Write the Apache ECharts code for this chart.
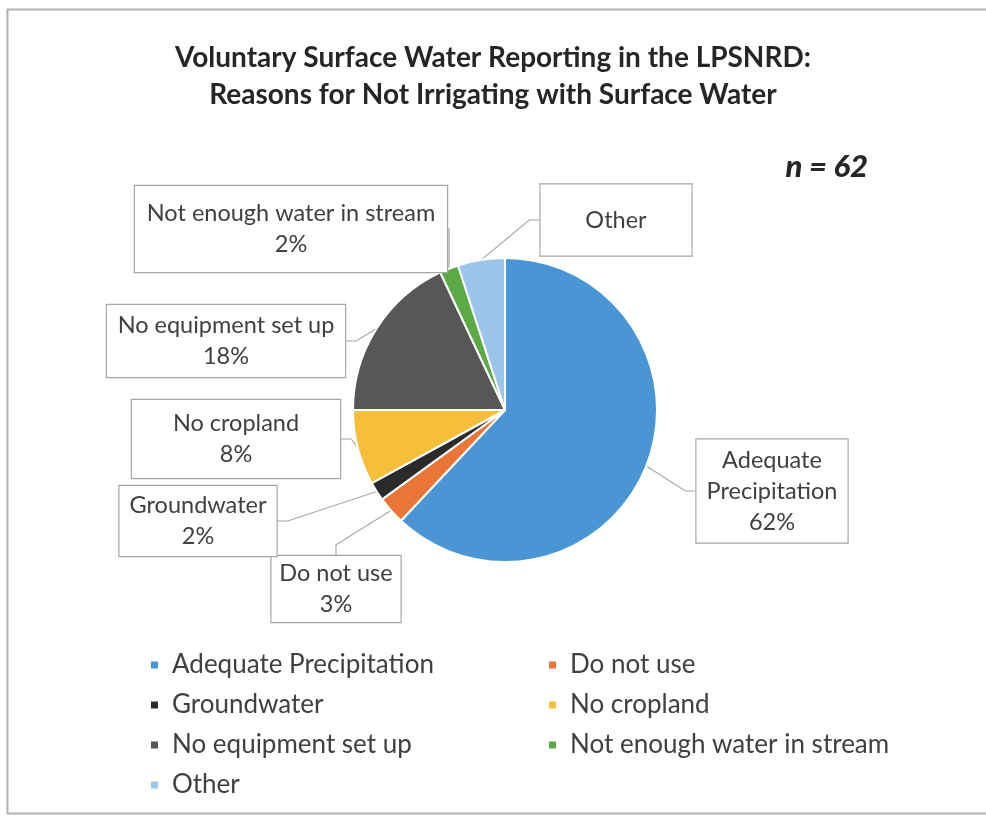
<!DOCTYPE html>
<html>
<head>
<meta charset="utf-8">
<script src="https://cdn.jsdelivr.net/npm/echarts@6/dist/echarts.min.js"></script>
<style>html,body{margin:0;padding:0;background:#fff}#c{width:986px;height:819px}</style>
</head>
<body>
<div id="c"></div>
<script>
// Data
const categories = ['Adequate Precipitation', 'Do not use', 'Groundwater', 'No cropland', 'No equipment set up', 'Not enough water in stream', 'Other'];
const values = [62, 3, 2, 8, 18, 2, 5];
const colors = ['#4a95d3', '#ea7537', '#2b2b2b', '#f7be3b', '#575757', '#5aaa46', '#9cc5ec'];
const labelTexts = ['Adequate\nPrecipitation\n{d}%', '{b}\n{d}%', '{b}\n{d}%', '{b}\n{d}%', '{b}\n{d}%', '{b}\n{d}%', '{b}'];
const titleText = 'Voluntary Surface Water Reporting in the LPSNRD:\nReasons for Not Irrigating with Surface Water';
const noteText = 'n = 62';

// Label box layout (styling / positions)
const boxes = [
  {cx: 772, cy: 491, w: 151, h: 103},
  {cx: 336, cy: 589, w: 129, h: 66},
  {cx: 198, cy: 521, w: 157, h: 70},
  {cx: 236, cy: 439, w: 208, h: 78},
  {cx: 226, cy: 341, w: 238, h: 72},
  {cx: 291, cy: 229, w: 312, h: 86},
  {cx: 616, cy: 220, w: 151, h: 71}
];
const LH = 31;
const FONT = 'Lato, Carlito, Calibri, sans-serif';

const data = categories.map((name, i) => {
  const lines = labelTexts[i].split('\n').length;
  const pv = Math.max(0, (boxes[i].h - lines * LH) / 2);
  return {
    name: name,
    value: values[i],
    itemStyle: {color: colors[i]},
    label: {
      formatter: labelTexts[i],
      width: boxes[i].w,
      padding: [pv, 0, pv, 0]
    }
  };
});

const chart = echarts.init(document.getElementById('c'), null, {renderer: 'canvas'});
chart.setOption({
  animation: false,
  backgroundColor: '#fff',
  title: {
    text: titleText,
    left: 'center',
    top: 34,
    textStyle: {fontFamily: FONT, fontWeight: 'bold', fontSize: 28, color: '#262626', lineHeight: 37}
  },
  graphic: [
    {type: 'rect', shape: {x: 7.5, y: 9.5, width: 990, height: 804}, style: {fill: 'none', stroke: '#b0b0b0', lineWidth: 2}, silent: true},
    {type: 'text', x: 868, y: 167, style: {text: noteText, font: 'italic 900 31px ' + FONT, fill: '#262626', align: 'right', verticalAlign: 'middle'}}
  ],
  legend: {
    left: 144,
    top: 647,
    width: 800,
    orient: 'horizontal',
    itemWidth: 9,
    itemHeight: 9,
    itemGap: 14,
    icon: 'rect',
    data: categories,
    textStyle: {fontFamily: FONT, fontSize: 26, color: '#404040', width: 361, lineHeight: 24, padding: [0, 0, 0, 8]}
  },
  series: [{
    type: 'pie',
    center: [505, 410],
    radius: [0, 152],
    startAngle: 90,
    clockwise: true,
    data: data,
    itemStyle: {borderColor: '#fff', borderWidth: 2},
    label: {
      show: true,
      position: 'outside',
      fontFamily: FONT,
      fontSize: 23.5,
      lineHeight: LH,
      color: '#404040',
      align: 'center',
      backgroundColor: '#fff',
      borderColor: '#a6a6a6',
      borderWidth: 1.2
    },
    labelLine: {show: true, length: 10, length2: 10, lineStyle: {color: '#a6a6a6', width: 1.2}},
    labelLayout: function (p) {
      const b = boxes[p.dataIndex];
      return {x: b.cx, y: b.cy, align: 'center', verticalAlign: 'middle'};
    },
    emphasis: {disabled: true}
  }]
});
</script>
</body>
</html>
